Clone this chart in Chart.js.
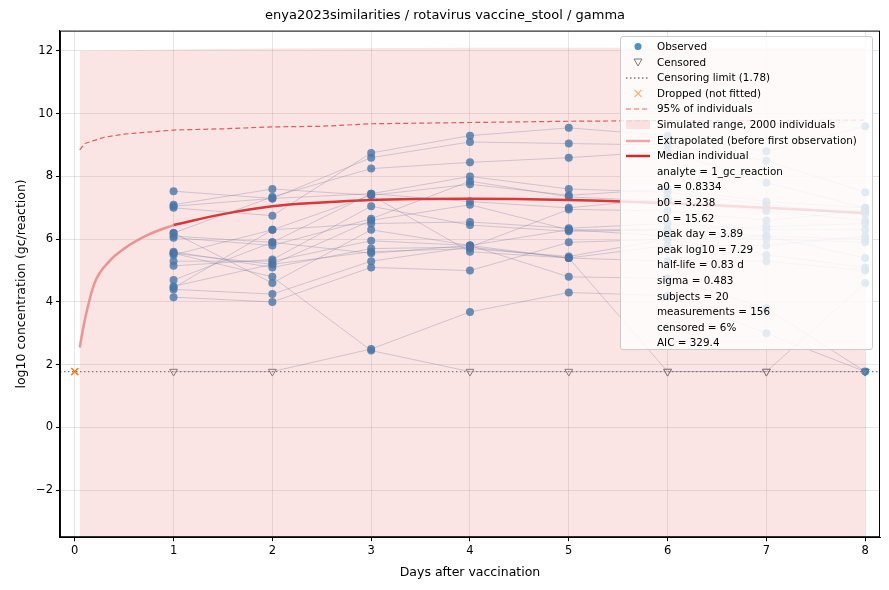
<!DOCTYPE html>
<html>
<head>
<meta charset="utf-8">
<script src="https://cdn.jsdelivr.net/npm/chart.js@4"></script>
<style>
  body { margin: 0; background: #fff; font-family: "DejaVu Sans", sans-serif; }
  #wrap { position: relative; width: 889px; height: 590px; }
  #legend { position: absolute; left: 620px; top: 36px; width: 253px; height: 314px;
    background: rgba(255,255,255,0.82); border: 1px solid #ccc; border-radius: 3px;
    font-size: 10.4px; color: #000; box-sizing: border-box; padding: 2px 0 0 0; }
  #legend div { height: 15.6px; line-height: 15.6px; position: relative; padding-left: 36px; white-space: nowrap; }
  #legend span.k { position: absolute; left: 4px; top: 0; width: 26px; height: 15.6px; }
</style>
</head>
<body>
<div id="wrap">
  <canvas id="myChart" width="889" height="590"></canvas>
  <div id="legend"></div>
</div>
<script>
// days of sampling
const days = [1, 2, 3, 4, 5, 6, 7, 8];
const limit = 1.78;

// log10 concentration per subject, day 1..8
const subjects = [
  [7.53, 7.30, 7.45, 7.20, 7.00, 7.30, 7.00, 6.90],
  [7.10, 7.60, 7.40, 7.75, 7.40, 7.60, 7.20, 7.00],
  [7.05, 7.30, 8.60, 9.10, 9.05, 9.00, 8.50, 7.50],
  [7.00, 6.75, 8.75, 9.30, 9.55, 9.30, 8.80, 9.60],
  [6.20, 7.35, 8.25, 8.45, 8.60, 8.80, 7.80, 7.00],
  [6.10, 5.90, 7.45, 8.00, 7.60, 7.50, 7.10, 6.80],
  [6.05, 5.80, 6.65, 7.85, 7.35, 7.20, 6.90, 6.60],
  [5.55, 5.20, 6.60, 7.10, 6.30, 6.10, 6.00, 5.90],
  [5.50, 6.30, 6.50, 6.55, 6.35, 6.50, 6.30, 6.30],
  [5.30, 5.30, 5.95, 5.80, 5.40, 5.30, 5.30, 5.00],
  [5.15, 5.35, 7.05, 6.45, 6.25, 6.30, 6.40, 6.50],
  [4.70, 5.90, 5.55, 5.80, 6.30, 6.30, 6.10, 5.40],
  [4.50, 5.20, 5.60, 5.70, 5.45, 6.00, 5.50, 5.10],
  [4.45, 6.30, 7.40, 5.60, 5.40, 5.80, 5.80, 6.10],
  [4.40, 4.25, 5.30, 5.75, 6.95, 6.90, 6.60, 6.90],
  [4.15, 4.00, 5.10, 5.00, 5.90, 6.00, 6.10, 6.00],
  [1.78, 1.78, 2.50, 3.68, 4.30, 4.20, 3.00, 1.78],
  [5.55, 4.80, 2.45, 1.78, 1.78, 1.78, 1.78, 1.78],
  [6.20, 4.60, 6.30, 5.80, 4.80, 4.75, 3.80, 1.78],
  [5.60, 5.10, 5.70, 5.75, 5.40, 1.78, 1.78, 4.60]
];
// censored points: [subject index, day index]
const censored = [[16,0],[16,1],[17,3],[17,4],[17,5],[17,6],[19,5],[19,6],[17,7],[16,7]];

// fitted curves
const extrapX = [0.05, 0.1, 0.2, 0.35, 0.5, 0.75, 1.0];
const extrapY = [2.55, 3.40, 4.60, 5.30, 5.70, 6.15, 6.45];
const medianX = [1, 1.5, 2, 2.5, 3, 3.5, 4, 5, 6, 7, 8];
const medianY = [6.45, 6.80, 7.05, 7.17, 7.25, 7.28, 7.29, 7.25, 7.15, 7.00, 6.83];
const p95X = [0.05, 0.1, 0.3, 0.5, 1, 1.5, 2, 2.5, 3, 4, 5, 6, 7, 8];
const p95Y = [8.85, 9.05, 9.25, 9.35, 9.48, 9.52, 9.58, 9.60, 9.68, 9.72, 9.76, 9.78, 9.78, 9.80];
const rangeX = [0.05, 1, 2, 4, 6, 8];
const rangeTop = [12.0, 12.05, 12.08, 12.1, 12.1, 12.1];

const isCens = (s, d) => censored.some(c => c[0] === s && c[1] === d);

let datasets = [];
datasets.push({
  data: rangeX.map((x, i) => ({x: x, y: rangeTop[i]})),
  borderWidth: 0, pointRadius: 0, backgroundColor: 'rgba(230,120,120,0.2)',
  fill: {value: -10}
});

subjects.forEach((vals, s) => {
  datasets.push({
    data: vals.map((v, d) => ({x: days[d], y: v})),
    borderColor: 'rgba(80,115,165,0.3)', borderWidth: 1, pointRadius: 0, fill: false
  });
});

datasets.push({
  data: [{x: -0.15, y: limit}, {x: 8.15, y: limit}],
  borderColor: '#777', borderWidth: 1.3, borderDash: [1.5, 2.5], pointRadius: 0
});
datasets.push({
  data: p95X.map((x, i) => ({x: x, y: p95Y[i]})),
  borderColor: '#e05555', borderWidth: 1.2, borderDash: [5, 3], pointRadius: 0
});
datasets.push({
  data: extrapX.map((x, i) => ({x: x, y: extrapY[i]})),
  borderColor: 'rgba(230,130,130,0.8)', borderWidth: 2.5, pointRadius: 0, cubicInterpolationMode: 'monotone'
});
datasets.push({
  data: medianX.map((x, i) => ({x: x, y: medianY[i]})),
  borderColor: '#d62728', borderWidth: 2.5, pointRadius: 0, cubicInterpolationMode: 'monotone'
});

let obs = [], cen = [];
subjects.forEach((vals, s) => vals.forEach((v, d) => {
  if (v === null) return;
  if (isCens(s, d)) cen.push({x: days[d], y: v}); else obs.push({x: days[d], y: v});
}));
datasets.push({
  data: obs, showLine: false, pointRadius: 4, pointBackgroundColor: 'rgba(31,119,180,0.8)',
  pointBorderColor: 'rgba(31,119,180,0.8)', pointBorderWidth: 0
});
datasets.push({
  data: cen, showLine: false, pointStyle: 'triangle', rotation: 180, pointRadius: 4.5,
  pointBackgroundColor: 'rgba(255,255,255,0.6)', pointBorderColor: '#777', pointBorderWidth: 1
});
datasets.push({
  data: [{x: 0, y: limit}], showLine: false, pointStyle: 'crossRot', pointRadius: 5,
  pointBorderColor: '#ff7f0e', pointBorderWidth: 1.5
});

// full box around the plot area
const frame = {
  id: 'frame',
  afterDraw(chart) {
    const a = chart.chartArea, c = chart.ctx;
    c.save(); c.strokeStyle = '#000'; c.lineWidth = 1;
    c.strokeRect(a.left + 0.5, a.top + 0.5, a.right - a.left - 1, a.bottom - a.top - 1);
    c.restore();
  }
};

new Chart(document.getElementById('myChart'), {
  type: 'line',
  data: {datasets: datasets},
  plugins: [frame],
  options: {
    responsive: false, animation: false,
    layout: {padding: {right: 9, top: 0, left: 10, bottom: 6}},
    plugins: {
      legend: {display: false}, tooltip: {enabled: false},
      title: {display: true, text: 'enya2023similarities / rotavirus vaccine_stool / gamma',
        color: '#000', font: {family: 'DejaVu Sans', size: 13, weight: 'normal'}, padding: {top: 8, bottom: 7}}
    },
    scales: {
      x: {
        type: 'linear', min: -0.15, max: 8.15,
        afterBuildTicks: a => { a.ticks = [0].concat(days).map(v => ({value: v})); },
        ticks: {color: '#000', font: {family: 'DejaVu Sans', size: 11.5}},
        grid: {color: 'rgba(0,0,0,0.1)', tickColor: '#000', tickLength: 4},
        border: {color: '#000'},
        title: {display: true, text: 'Days after vaccination', color: '#000', font: {family: 'DejaVu Sans', size: 12.5}}
      },
      y: {
        min: -3.5, max: 12.65,
        afterBuildTicks: a => { a.ticks = [-2, 0, 2, 4, 6, 8, 10, 12].map(v => ({value: v})); },
        ticks: {color: '#000', font: {family: 'DejaVu Sans', size: 11.5}, callback: v => String(v).replace('-', '\u2212')},
        grid: {color: 'rgba(0,0,0,0.1)', tickColor: '#000', tickLength: 4},
        border: {color: '#000'},
        title: {display: true, text: 'log10 concentration (gc/reaction)', color: '#000', font: {family: 'DejaVu Sans', size: 12.5}}
      }
    }
  }
});

// legend box
const legendItems = [
  ['dot', 'Observed'], ['tri', 'Censored'], ['dotted', 'Censoring limit (1.78)'],
  ['x', 'Dropped (not fitted)'], ['dash', '95% of individuals'],
  ['band', 'Simulated range, 2000 individuals'], ['pink', 'Extrapolated (before first observation)'],
  ['red', 'Median individual'],
  ['', 'analyte = 1_gc_reaction'], ['', 'a0 = 0.8334'], ['', 'b0 = 3.238'], ['', 'c0 = 15.62'],
  ['', 'peak day = 3.89'], ['', 'peak log10 = 7.29'], ['', 'half-life = 0.83 d'],
  ['', 'sigma = 0.483'], ['', 'subjects = 20'], ['', 'measurements = 156'],
  ['', 'censored = 6%'], ['', 'AIC = 329.4']
];
const keys = {
  dot: '<svg width="26" height="15"><circle cx="13" cy="7.5" r="3.5" fill="rgba(31,119,180,0.8)"/></svg>',
  tri: '<svg width="26" height="15"><polygon points="9,4 17,4 13,11" fill="none" stroke="#777"/></svg>',
  dotted: '<svg width="26" height="15"><line x1="1" y1="8" x2="25" y2="8" stroke="#777" stroke-dasharray="1.5,2.5" stroke-width="1.3"/></svg>',
  x: '<svg width="26" height="15"><path d="M9.5,4 L16.5,11 M16.5,4 L9.5,11" stroke="#ffb070" stroke-width="1.2"/></svg>',
  dash: '<svg width="26" height="15"><line x1="1" y1="8" x2="25" y2="8" stroke="#e86a6a" stroke-dasharray="5,3" stroke-width="1.2"/></svg>',
  band: '<svg width="26" height="15"><rect x="1" y="3" width="24" height="9" fill="rgba(230,120,120,0.2)"/></svg>',
  pink: '<svg width="26" height="15"><line x1="1" y1="8" x2="25" y2="8" stroke="rgba(230,130,130,0.7)" stroke-width="2.5"/></svg>',
  red: '<svg width="26" height="15"><line x1="1" y1="8" x2="25" y2="8" stroke="#d62728" stroke-width="2.5"/></svg>'
};
document.getElementById('legend').innerHTML = legendItems.map(it =>
  `<div><span class="k">${keys[it[0]] || ''}</span>${it[1]}</div>`).join('');
</script>
</body>
</html>
